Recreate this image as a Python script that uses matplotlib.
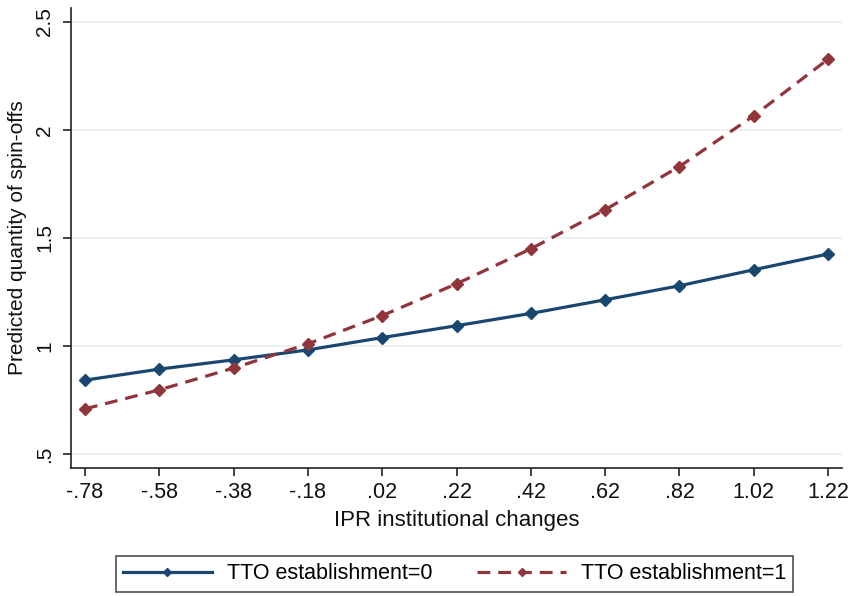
import matplotlib.pyplot as plt

plt.rcParams['font.family'] = ['Liberation Sans', 'DejaVu Sans']

ipr = [-0.78, -0.58, -0.38, -0.18, 0.02, 0.22, 0.42, 0.62, 0.82, 1.02, 1.22]
ipr_labels = ['-.78', '-.58', '-.38', '-.18', '.02', '.22', '.42', '.62', '.82', '1.02', '1.22']
tto0 = [0.841, 0.892, 0.935, 0.981, 1.038, 1.093, 1.150, 1.213, 1.278, 1.352, 1.425]
tto1 = [0.708, 0.796, 0.897, 1.009, 1.140, 1.287, 1.449, 1.630, 1.830, 2.065, 2.327]
yticks = [0.5, 1, 1.5, 2, 2.5]
ytick_labels = ['.5', '1', '1.5', '2', '2.5']

navy = '#1a476f'
maroon = '#90353b'

fig = plt.figure(figsize=(8.53, 5.96), dpi=100)
ax = fig.add_axes([0.0832, 0.215, 0.904, 0.772])

ax.plot(ipr, tto0, color=navy, lw=2.3, marker='D', ms=6.3, label='TTO establishment=0')
ax.plot(ipr, tto1, color=maroon, lw=2.3, ls=(0, (4, 2.5)), marker='D', ms=6.3,
        label='TTO establishment=1')

ax.set_xlim(-0.8177, 1.2577)
ax.set_ylim(0.435, 2.565)
ax.set_xticks(ipr)
ax.set_xticklabels(ipr_labels)
ax.set_yticks(yticks)
ax.set_yticklabels(ytick_labels, rotation=90, va='center')
ax.grid(axis='y', color='#eaeeee', lw=1.2)
ax.set_axisbelow(True)

for s in ['top', 'right']:
    ax.spines[s].set_visible(False)
for s in ['left', 'bottom']:
    ax.spines[s].set_color('#222222')
    ax.spines[s].set_linewidth(1.2)
ax.tick_params(direction='out', length=6, width=1.2, color='#222222',
               labelcolor='#111111')
ax.tick_params(axis='x', labelsize=15.5, pad=4)
ax.tick_params(axis='y', labelsize=15, pad=6)

ax.set_xlabel('IPR institutional changes', fontsize=16, color='#111111', labelpad=5)
ax.set_ylabel('Predicted quantity of spin-offs', fontsize=15, color='#111111', labelpad=6)

leg = fig.legend(loc='center', bbox_to_anchor=(0.533, 0.037), ncol=2, fontsize=15.5,
                 frameon=True, fancybox=False, edgecolor='#222222', handlelength=4.1,
                 columnspacing=2.1, borderpad=0.35, handletextpad=0.7, borderaxespad=0,
                 markerscale=0.7)
leg.get_frame().set_linewidth(1.2)

fig.savefig('out.png', dpi=100)
